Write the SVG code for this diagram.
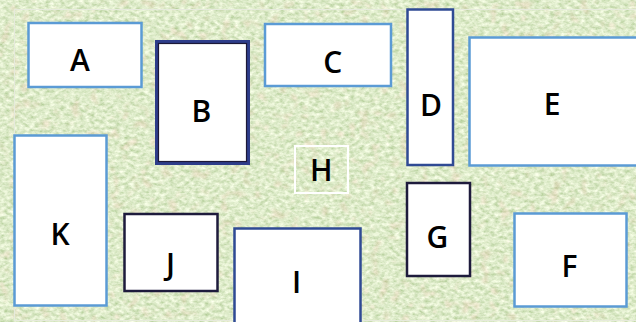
<svg xmlns="http://www.w3.org/2000/svg" width="636" height="322" viewBox="0 0 636 322">
  <defs>
    <filter id="grass" x="0" y="0" width="100%" height="100%">
      <feTurbulence type="fractalNoise" baseFrequency="0.2 0.3" numOctaves="3" seed="7" result="n"/>
      <feColorMatrix in="n" type="matrix" values="0.7 0 0 0 0.38  0.55 0 0 0 0.56  0.7 0 0 0 0.24  0 0 0 0 1" result="c"/>
      <feGaussianBlur in="c" stdDeviation="0.6"/>
    </filter>
    <filter id="spots" x="0" y="0" width="100%" height="100%">
      <feTurbulence type="fractalNoise" baseFrequency="0.1" numOctaves="2" seed="3" result="n"/>
      <feColorMatrix in="n" type="matrix" values="0 0 0 0 0.85  0 0 0 0 0.5  0 0 0 0 0.4  -5 3.5 0 0 0.3" result="c"/>
      <feGaussianBlur in="c" stdDeviation="1"/>
    </filter>
    <style>
      .lb { fill: #ffffff; stroke: #5b9bd5; stroke-width: 2.5; }
      .db { fill: #ffffff; stroke: #2f4a94; stroke-width: 2.5; }
      .bk { fill: #ffffff; stroke: #1e1b3c; stroke-width: 2.5; }
      .wh { fill: none; stroke: #ffffff; stroke-width: 2; }
      text { font-family: "Open Sans", "Liberation Sans", sans-serif; font-weight: 600; font-size: 30px; fill: #000000; text-anchor: middle; }
    </style>
  </defs>

  <g id="background">
    <rect x="0" y="0" width="636" height="322" filter="url(#grass)"/>
    <rect x="0" y="0" width="636" height="322" filter="url(#spots)" opacity="0.25"/>
    <rect x="14.5" y="9.5" width="640" height="311" fill="none" stroke="#e6eadc" stroke-width="1"/>
  </g>

  <g id="connectors"></g>

  <g id="A"><rect class="lb" x="28.5" y="23" width="113" height="64"/><text x="80" y="71">A</text></g>
  <g id="B">
    <rect x="157" y="42" width="91" height="121" fill="#ffffff" stroke="#2e3d8a" stroke-width="4"/>
    <rect x="158.5" y="43.5" width="88" height="118" fill="none" stroke="#1c1838" stroke-width="1.2"/>
    <text x="201.5" y="121.5">B</text>
  </g>
  <g id="C"><rect class="lb" x="265" y="24" width="126" height="62"/><text x="332.7" y="72.7">C</text></g>
  <g id="D"><rect class="db" x="407.5" y="9.5" width="45.5" height="155.5"/><text x="431" y="116">D</text></g>
  <g id="E"><rect class="lb" x="469.5" y="37.5" width="175" height="128"/><text x="552" y="115">E</text></g>
  <g id="F"><rect class="lb" x="514.5" y="213.5" width="112" height="93"/><text x="569.5" y="277.3">F</text></g>
  <g id="G"><rect class="bk" x="407" y="183" width="63" height="93"/><text x="437.5" y="247.7">G</text></g>
  <g id="H"><rect class="wh" x="295" y="146" width="53" height="47"/><text x="321.3" y="181">H</text></g>
  <g id="I"><rect class="db" x="234.5" y="228.5" width="126" height="95"/><text x="296.7" y="293.3">I</text></g>
  <g id="J"><rect class="bk" x="124.5" y="214" width="93" height="77"/><text x="170.5" y="275">J</text></g>
  <g id="K"><rect class="lb" x="14.5" y="135.5" width="92" height="170"/><text x="60" y="245">K</text></g>
</svg>
